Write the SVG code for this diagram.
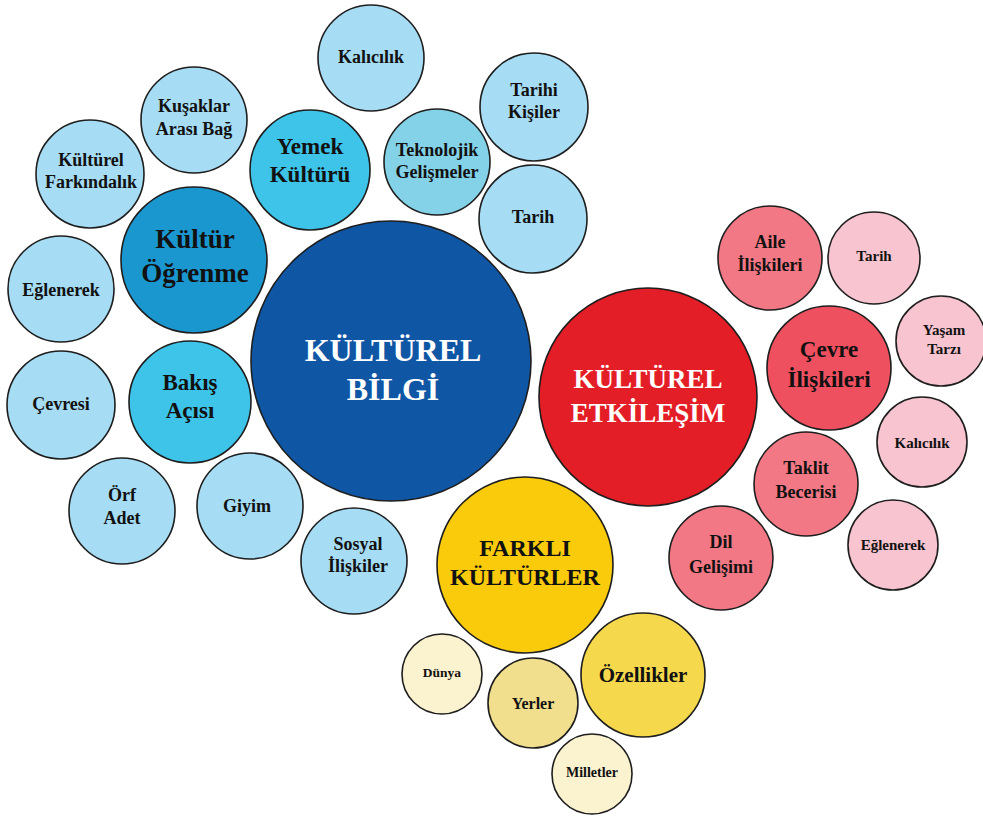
<svg xmlns="http://www.w3.org/2000/svg" width="983" height="818" viewBox="0 0 983 818">
<style>
circle{stroke:#1e1e1e;stroke-width:1.6}
text{font-family:"Liberation Serif","Times New Roman",serif;font-weight:bold;text-anchor:middle;fill:#111}
.w{fill:#fff}
.lb{fill:#a6ddf5}.tk{fill:#84d2e8}.mb{fill:#3dc4e8}.db{fill:#1b97cf}.kb{fill:#0f56a5}
.rd{fill:#e41e27}.cr{fill:#ef5060}.mr{fill:#f17884}.pk{fill:#f7c4cf}
.yl{fill:#f9cb0b}.oz{fill:#f6d84c}.yr{fill:#f1df8e}.cr2{fill:#fbf2cf}
.s18{font-size:18px}.s15{font-size:15px}.s23{font-size:23px}
</style>
<rect width="983" height="818" fill="#fff"/>
<g id="connectors"></g>
<g id="kulturel-bilgi"><circle class="kb" cx="391" cy="361" r="140"/><text class="w" x="393" y="361" font-size="32">KÜLTÜREL</text><text class="w" x="393" y="400" font-size="32">BİLGİ</text></g>
<g id="kultur-ogrenme"><circle class="db" cx="194" cy="260" r="73"/><text x="195" y="248" font-size="27">Kültür</text><text x="195" y="282" font-size="27">Öğrenme</text></g>
<g id="yemek-kulturu"><circle class="mb" cx="310" cy="170" r="60"/><text class="s23" x="310" y="154">Yemek</text><text class="s23" x="310" y="182">Kültürü</text></g>
<g id="bakis-acisi"><circle class="mb" cx="190" cy="402" r="61"/><text class="s23" x="190" y="390">Bakış</text><text class="s23" x="190" y="418">Açısı</text></g>
<g id="kalicilik-b"><circle class="lb" cx="371" cy="58" r="53"/><text class="s18" x="371" y="63">Kalıcılık</text></g>
<g id="kusaklar"><circle class="lb" cx="194" cy="120" r="53"/><text class="s18" x="194" y="112">Kuşaklar</text><text class="s18" x="194" y="135">Arası Bağ</text></g>
<g id="farkindalik"><circle class="lb" cx="90" cy="174" r="54"/><text class="s18" x="91" y="166">Kültürel</text><text class="s18" x="91" y="188">Farkındalık</text></g>
<g id="teknolojik"><circle class="tk" cx="437" cy="162" r="53"/><text class="s18" x="437" y="156">Teknolojik</text><text class="s18" x="437" y="178">Gelişmeler</text></g>
<g id="tarihi-kisiler"><circle class="lb" cx="534" cy="107" r="54"/><text class="s18" x="534" y="96">Tarihi</text><text class="s18" x="534" y="118">Kişiler</text></g>
<g id="tarih-b"><circle class="lb" cx="533" cy="219" r="54"/><text class="s18" x="533" y="223">Tarih</text></g>
<g id="eglenerek-b"><circle class="lb" cx="61" cy="289" r="53"/><text class="s18" x="61" y="296">Eğlenerek</text></g>
<g id="cevresi"><circle class="lb" cx="61" cy="405" r="54"/><text class="s18" x="61" y="410">Çevresi</text></g>
<g id="orf-adet"><circle class="lb" cx="122" cy="511" r="53"/><text class="s18" x="122" y="501">Örf</text><text class="s18" x="122" y="524">Adet</text></g>
<g id="giyim"><circle class="lb" cx="250" cy="506" r="53"/><text class="s18" x="247" y="512">Giyim</text></g>
<g id="sosyal"><circle class="lb" cx="354" cy="561" r="53"/><text class="s18" x="358" y="550">Sosyal</text><text class="s18" x="358" y="572">İlişkiler</text></g>
<g id="kulturel-etkilesim"><circle class="rd" cx="648" cy="397" r="109"/><text class="w" x="648" y="388" font-size="27">KÜLTÜREL</text><text class="w" x="648" y="422" font-size="27">ETKİLEŞİM</text></g>
<g id="aile"><circle class="mr" cx="770" cy="258" r="52"/><text class="s18" x="770" y="248">Aile</text><text class="s18" x="770" y="271">İlişkileri</text></g>
<g id="tarih-p"><circle class="pk" cx="874" cy="258" r="46"/><text class="s15" x="874" y="261">Tarih</text></g>
<g id="cevre-iliskileri"><circle class="cr" cx="829" cy="368" r="62"/><text class="s23" x="829" y="357">Çevre</text><text class="s23" x="829" y="387">İlişkileri</text></g>
<g id="yasam"><circle class="pk" cx="941" cy="341" r="45"/><text class="s15" x="944" y="335">Yaşam</text><text class="s15" x="944" y="354">Tarzı</text></g>
<g id="kalicilik-p"><circle class="pk" cx="922" cy="442" r="45"/><text class="s15" x="922" y="448">Kalıcılık</text></g>
<g id="taklit"><circle class="mr" cx="806" cy="484" r="52"/><text class="s18" x="806" y="474">Taklit</text><text class="s18" x="806" y="498">Becerisi</text></g>
<g id="eglenerek-p"><circle class="pk" cx="893" cy="545" r="45"/><text class="s15" x="893" y="550">Eğlenerek</text></g>
<g id="dil"><circle class="mr" cx="721" cy="558" r="52"/><text class="s18" x="721" y="548">Dil</text><text class="s18" x="721" y="573">Gelişimi</text></g>
<g id="farkli-kulturler"><circle class="yl" cx="525" cy="565" r="88"/><text x="525" y="556" font-size="24">FARKLI</text><text x="525" y="585" font-size="24">KÜLTÜRLER</text></g>
<g id="ozellikler"><circle class="oz" cx="643" cy="675" r="62"/><text x="643" y="682" font-size="21">Özellikler</text></g>
<g id="dunya"><circle class="cr2" cx="442" cy="674" r="40"/><text x="442" y="677" font-size="13.5">Dünya</text></g>
<g id="yerler"><circle class="yr" cx="533" cy="703" r="45"/><text x="533" y="709" font-size="16">Yerler</text></g>
<g id="milletler"><circle class="cr2" cx="592" cy="774" r="40"/><text x="592" y="777" font-size="14">Milletler</text></g>
</svg>
